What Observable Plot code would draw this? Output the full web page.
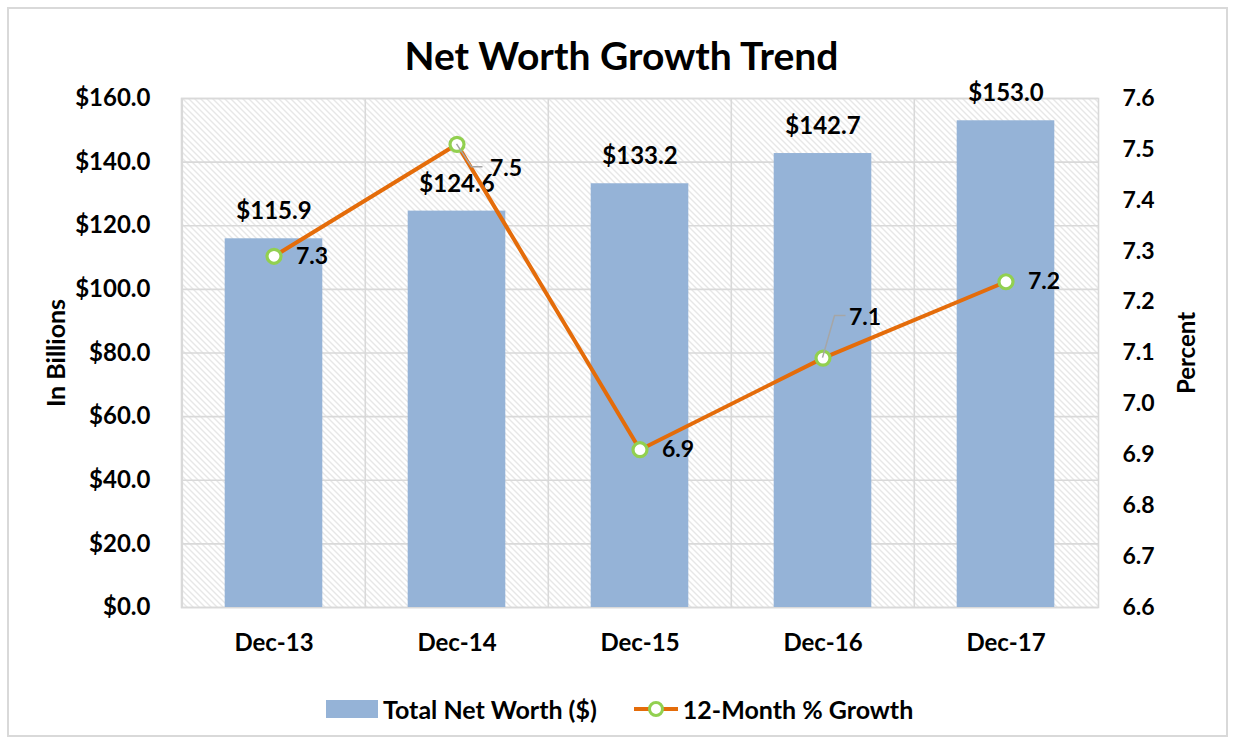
<!DOCTYPE html>
<html>
<head>
<meta charset="utf-8">
<script src="https://cdn.jsdelivr.net/npm/d3@7"></script>
<script src="https://cdn.jsdelivr.net/npm/@observablehq/plot@0.6"></script>
<style>
  body { margin: 0; background: #fff; font-family: Lato, "Open Sans", sans-serif; }
  #wrap { position: relative; width: 1233px; height: 744px; overflow: hidden; background: #fff; }
  #border { position: absolute; left: 7px; top: 7px; width: 1217px; height: 726px; border: 2px solid #d9d9d9; }
  #chart { position: absolute; left: 0; top: 0; }
  #title { position: absolute; left: 0; top: 31px; width: 1243px; text-align: center; font-weight: bold; font-size: 39px; color: #000; line-height: 48px; }
  .ylab { position: absolute; font-weight: bold; color: #000; white-space: nowrap; transform: translate(-50%, -50%) rotate(-90deg); }
  #legend { position: absolute; top: 694px; left: 326px; display: flex; align-items: center; font-weight: bold; font-size: 25px; color: #000; line-height: 30px; }
  .sw { display: inline-block; width: 52px; height: 18px; background: #95b3d7; margin-right: 5px; }
  .gap { display: inline-block; width: 36px; }
</style>
</head>
<body>
<div id="wrap">
  <div id="border"></div>
  <div id="chart"></div>
  <div id="title">Net Worth Growth Trend</div>
  <div class="ylab" style="left:55px; top:353px; font-size:25px;">In Billions</div>
  <div class="ylab" style="left:1185px; top:353px; font-size:24px;">Percent</div>
  <div id="legend">
    <span class="sw"></span><span>Total Net Worth ($)</span>
    <span class="gap"></span>
    <svg width="46" height="20" style="margin-right:4px"><line x1="1" x2="45" y1="10" y2="10" stroke="#e46c0a" stroke-width="4"/><circle cx="23" cy="10" r="6.5" fill="#fff" stroke="#92d050" stroke-width="3"/></svg>
    <span>12-Month % Growth</span>
  </div>
</div>
<script>
// ---- Data ----
const categories = ["Dec-13", "Dec-14", "Dec-15", "Dec-16", "Dec-17"];
const netWorth = [115.9, 124.6, 133.2, 142.7, 153.0];
const growth = [7.29, 7.51, 6.91, 7.09, 7.24];
const netWorthTicks = [0, 20, 40, 60, 80, 100, 120, 140, 160];
const percentTicks = [6.6, 6.7, 6.8, 6.9, 7.0, 7.1, 7.2, 7.3, 7.4, 7.5, 7.6];

// ---- Derived ----
const yMax = netWorthTicks[netWorthTicks.length - 1];
const pMin = percentTicks[0], pMax = percentTicks[percentTicks.length - 1];
const toY = p => (p - pMin) / (pMax - pMin) * yMax;
const fromY = v => v / yMax * (pMax - pMin) + pMin;
const f1 = d3.format(".1f");

const bars = categories.map((c, i) => ({cat: c, value: netWorth[i]}));
const pts = categories.map((c, i) => ({cat: c, pct: growth[i]}));

const W = 1233, H = 744, mL = 181, mR = 135, mT = 98, mB = 137;
const bw = (W - mL - mR) / categories.length;
const inset = (bw - 98) / 2;
const grid = "#d9d9d9";

const normalPts = pts.filter(d => d.cat !== "Dec-14" && d.cat !== "Dec-16");

const chart = Plot.plot({
  width: W, height: H,
  marginLeft: mL, marginRight: mR, marginTop: mT, marginBottom: mB,
  style: {fontFamily: "Lato, 'Open Sans', sans-serif", fontSize: "24px", fontWeight: "bold", color: "#000", background: "transparent", overflow: "visible"},
  x: {domain: categories, padding: 0},
  y: {domain: [0, yMax]},
  marks: [
    Plot.frame({fill: "url(#hatch)", stroke: null}),
    Plot.ruleY(netWorthTicks, {stroke: grid, strokeWidth: 1.6}),
    Plot.ruleX(categories, {dx: -bw / 2, stroke: grid, strokeWidth: 1.6}),
    Plot.frame({stroke: grid, strokeWidth: 1.6}),
    Plot.barY(bars, {x: "cat", y: "value", fill: "#95b3d7", insetLeft: inset, insetRight: inset}),
    Plot.text(bars, {x: "cat", y: "value", text: d => "$" + f1(d.value), dy: -27, fontSize: 24, fontWeight: "bold", fill: "#000"}),
    Plot.line(pts, {x: "cat", y: d => toY(d.pct), stroke: "#e46c0a", strokeWidth: 4}),
    Plot.dot(pts, {x: "cat", y: d => toY(d.pct), r: 7, fill: "#fff", stroke: "#92d050", strokeWidth: 3.2}),
    Plot.text(normalPts, {x: "cat", y: d => toY(d.pct), text: d => f1(d.pct), dx: 38, fontSize: 23, fontWeight: "bold", fill: "#000"}),
    Plot.text(pts.filter(d => d.cat === "Dec-14"), {x: "cat", y: d => toY(d.pct), text: d => f1(d.pct), dx: 49, dy: 24, fontSize: 23, fontWeight: "bold", fill: "#000"}),
    Plot.text(pts.filter(d => d.cat === "Dec-16"), {x: "cat", y: d => toY(d.pct), text: d => f1(d.pct), dx: 42, dy: -40, fontSize: 23, fontWeight: "bold", fill: "#000"}),
    Plot.axisY(netWorthTicks, {anchor: "left", tickSize: 0, tickPadding: 31, label: null, tickFormat: d => "$" + f1(d), fontSize: 24}),
    Plot.axisY(percentTicks.map(toY), {anchor: "right", tickSize: 0, tickPadding: 24, label: null, tickFormat: d => f1(fromY(d)), fontSize: 23}),
    Plot.axisX({tickSize: 0, tickPadding: 26, label: null, fontSize: 24})
  ]
});

document.getElementById("chart").appendChild(chart);

// hatch pattern definition
const svg = d3.select(chart.tagName.toLowerCase() === "svg" ? chart : chart.querySelector("svg"));
const defs = svg.insert("defs", ":first-child");
const pat = defs.append("pattern").attr("id", "hatch").attr("patternUnits", "userSpaceOnUse")
  .attr("width", 6).attr("height", 6);
pat.append("rect").attr("width", 6).attr("height", 6).attr("fill", "#fff");
pat.append("path").attr("d", "M-1,-1 L7,7 M-1,5 L1,7 M5,-1 L7,1").attr("stroke", "#cfcfcf").attr("stroke-width", 1);

// leader lines for offset labels, positioned via the chart's scales
const sx = chart.scale("x"), sy = chart.scale("y");
const leaders = [
  {cat: "Dec-14", path: [[0, 0], [15, 23], [26, 23]]},
  {cat: "Dec-16", path: [[0, 0], [12, -42], [23, -42]]}
];
leaders.forEach(l => {
  const p = pts.find(d => d.cat === l.cat);
  const cx = sx.apply(p.cat) + sx.bandwidth / 2, cy = sy.apply(toY(p.pct));
  svg.append("path")
    .attr("d", "M" + l.path.map(([dx, dy]) => (cx + dx) + "," + (cy + dy)).join("L"))
    .attr("fill", "none").attr("stroke", "#a6a6a6").attr("stroke-width", 1.5);
});
</script>
</body>
</html>
